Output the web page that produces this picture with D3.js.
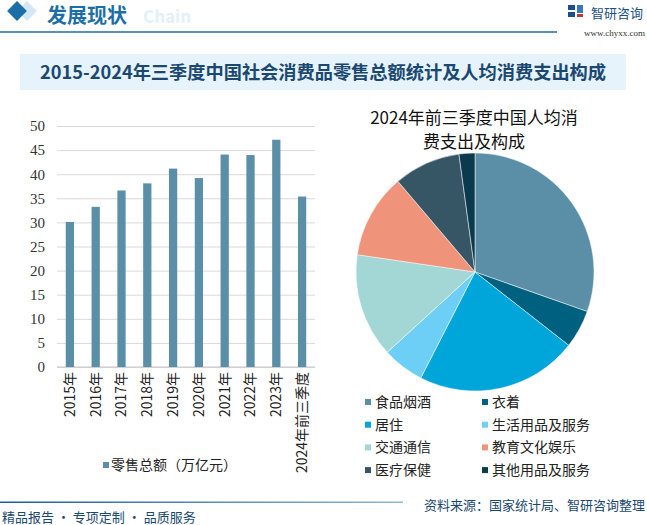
<!DOCTYPE html>
<html>
<head>
<meta charset="utf-8">
<script src="https://cdn.jsdelivr.net/npm/d3@7"></script>
<style>
  body { margin: 0; background: #fff; }
  svg { display: block; font-family: "Noto Sans CJK SC", "Noto Sans", sans-serif; }
</style>
</head>
<body>
<svg width="647" height="525"></svg>
<script>
const years = ['2015年', '2016年', '2017年', '2018年', '2019年', '2020年', '2021年', '2022年', '2023年', '2024年前三季度'];
const retail = [30.09, 33.23, 36.63, 38.10, 41.16, 39.20, 44.08, 43.97, 47.15, 35.36];
const yTicks = [0, 5, 10, 15, 20, 25, 30, 35, 40, 45, 50];

const pieNames = ['食品烟酒', '衣着', '居住', '生活用品及服务', '交通通信', '教育文化娱乐', '医疗保健', '其他用品及服务'];
const pieValues = [6270, 1069, 4530, 1173, 2911, 2364, 1870, 444];
const pieColors = ['#5b8fa8', '#00607f', '#00a6da', '#6dcff6', '#a2d7d5', '#ef937a', '#365666', '#0b3a4f'];

const svg = d3.select('svg');
const defs = svg.append('defs');

// header
const hdr = svg.append('g');
hdr.append('rect').attr('x', 20).attr('y', 4).attr('width', 14).attr('height', 14)
    .attr('transform', 'rotate(45 27 11)').attr('fill', '#d3e8f4');
hdr.append('rect').attr('x', 10).attr('y', 4).attr('width', 14).attr('height', 14)
    .attr('transform', 'rotate(45 17 11)').attr('fill', '#1b6ea6');
hdr.append('text').attr('x', 143).attr('y', 23).text('Chain')
    .attr('font-size', 17).attr('font-weight', 'bold').attr('fill', '#e3f0f9');
hdr.append('text').attr('x', 47).attr('y', 23).text('发展现状')
    .attr('font-size', 20).attr('font-weight', 'bold').attr('fill', '#1b6ea6');
hdr.append('line').attr('x1', 0).attr('x2', 557).attr('y1', 32).attr('y2', 32)
    .attr('stroke', '#1b6ea6').attr('stroke-width', 1.5);

// logo
const logo = svg.append('g').attr('transform', 'translate(568,5)');
logo.append('rect').attr('x', 0).attr('y', 0).attr('width', 7).attr('height', 5).attr('fill', '#1b4f8a');
logo.append('rect').attr('x', 0).attr('y', 7).attr('width', 7).attr('height', 5).attr('fill', '#1b4f8a');
logo.append('rect').attr('x', 9).attr('y', 0).attr('width', 6).attr('height', 8).attr('fill', '#3a78b8');
logo.append('rect').attr('x', 9).attr('y', 9).attr('width', 6).attr('height', 3).attr('fill', '#c0392b');
svg.append('text').attr('x', 591).attr('y', 18).text('智研咨询')
    .attr('font-size', 13).attr('fill', '#1b4f8a');
svg.append('text').attr('x', 645).attr('y', 36).attr('text-anchor', 'end').text('www.chyxx.com')
    .attr('font-size', 9).attr('fill', '#333').attr('font-family', 'Liberation Serif');

// title band
svg.append('rect').attr('x', 20).attr('y', 54).attr('width', 606).attr('height', 36).attr('fill', '#e6f3fb');
svg.append('text').attr('x', 323).attr('y', 79).attr('text-anchor', 'middle')
    .text('2015-2024年三季度中国社会消费品零售总额统计及人均消费支出构成')
    .attr('font-size', 18).attr('font-weight', 'bold').attr('fill', '#1a4870')
    .attr('textLength', 566).attr('lengthAdjust', 'spacingAndGlyphs');

// bar chart
const x = d3.scaleBand().domain(years).range([57, 315]).paddingInner(0.68).paddingOuter(0.34);
const y = d3.scaleLinear().domain([0, 50]).range([367, 126]);

const gy = svg.append('g').attr('transform', 'translate(57,0)')
    .call(d3.axisLeft(y).tickValues(yTicks).tickSize(-258).tickPadding(12));
gy.select('.domain').remove();
gy.selectAll('.tick line').attr('stroke', '#d9d9d9');
gy.selectAll('.tick text').attr('font-size', 15).attr('fill', '#333')
    .style('font-family', '"Liberation Serif", serif');

svg.append('line').attr('x1', 57).attr('x2', 315).attr('y1', y(0)).attr('y2', y(0))
    .attr('stroke', '#c8c8c8');

svg.selectAll('rect.bar')
    .data(retail)
    .enter()
    .append('rect')
    .attr('class', 'bar')
    .attr('x', (d, i) => x(years[i]))
    .attr('y', d => y(d))
    .attr('width', x.bandwidth())
    .attr('height', d => y(0) - y(d))
    .attr('fill', '#5b8fa8');

const gx = svg.append('g').attr('transform', `translate(0,${y(0)})`)
    .call(d3.axisBottom(x).tickSize(0).tickPadding(0));
gx.select('.domain').remove();
gx.selectAll('.tick text')
    .attr('transform', 'rotate(-90)')
    .attr('text-anchor', 'end')
    .attr('x', -5).attr('y', 0).attr('dy', '0.35em')
    .attr('font-size', 14).attr('fill', '#222')
    .style('font-family', '"Noto Sans CJK SC", sans-serif');

svg.append('rect').attr('x', 103).attr('y', 462).attr('width', 6).attr('height', 6).attr('fill', '#5b8fa8');
svg.append('text').attr('x', 111).attr('y', 470).text('零售总额（万亿元）')
    .attr('font-size', 14).attr('fill', '#222');

// pie chart
svg.append('text').attr('x', 474).attr('y', 124).attr('text-anchor', 'middle')
    .text('2024年前三季度中国人均消').attr('font-size', 17).attr('fill', '#111');
svg.append('text').attr('x', 474).attr('y', 148).attr('text-anchor', 'middle')
    .text('费支出及构成').attr('font-size', 17).attr('fill', '#111');

const pie = d3.pie().sort(null).value(d => d);
const arc = d3.arc().innerRadius(0).outerRadius(119);
svg.append('g').attr('transform', 'translate(475,272)')
    .selectAll('path')
    .data(pie(pieValues))
    .enter()
    .append('path')
    .attr('d', arc)
    .attr('fill', (d, i) => pieColors[i])
    .attr('stroke', '#fff')
    .attr('stroke-width', 0.5);

const leg = svg.append('g').selectAll('g')
    .data(pieNames)
    .enter()
    .append('g')
    .attr('transform', (d, i) => `translate(${i % 2 ? 482 : 365},${402 + Math.floor(i / 2) * 22.7})`);
leg.append('rect').attr('x', 0).attr('y', -3).attr('width', 6).attr('height', 6)
    .attr('fill', (d, i) => pieColors[i]);
leg.append('text').attr('x', 10).attr('y', 0).attr('dy', '0.35em').text(d => d)
    .attr('font-size', 14).attr('fill', '#222');

// footer
const fg = defs.append('linearGradient').attr('id', 'fline');
fg.append('stop').attr('offset', '0%').attr('stop-color', '#1b5e92');
fg.append('stop').attr('offset', '100%').attr('stop-color', '#8fb8d8');
svg.append('rect').attr('x', 0).attr('y', 501.5).attr('width', 403).attr('height', 1.5).attr('fill', 'url(#fline)');
svg.append('text').attr('x', 2).attr('y', 522).text('精品报告 · 专项定制 · 品质服务')
    .attr('font-size', 13).attr('fill', '#1a4870');
svg.append('text').attr('x', 645).attr('y', 510).attr('text-anchor', 'end').text('资料来源：国家统计局、智研咨询整理')
    .attr('font-size', 13).attr('fill', '#1a4870');
</script>
</body>
</html>
